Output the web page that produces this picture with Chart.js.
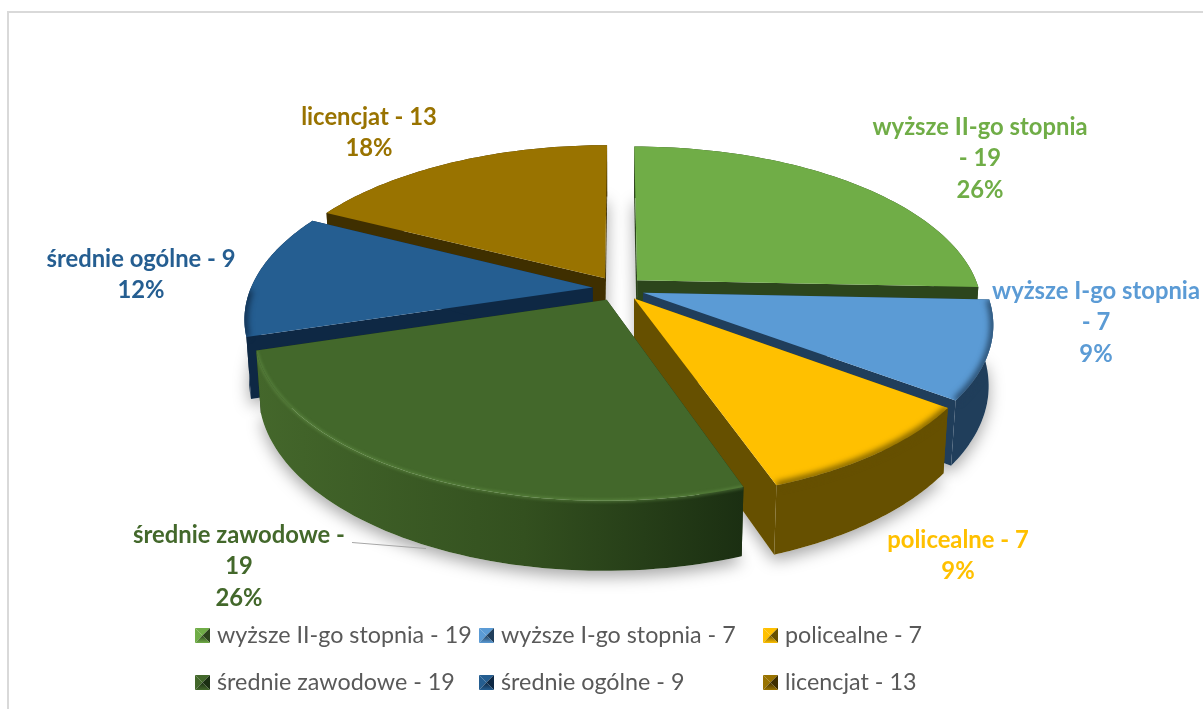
<!DOCTYPE html>
<html>
<head>
<meta charset="utf-8">
<title>Wykształcenie</title>
<script src="https://cdn.jsdelivr.net/npm/chart.js@4"></script>
<style>
    html, body { margin: 0; padding: 0; background: #fff; overflow: hidden; }
    #wrap { position: relative; width: 1203px; height: 709px; }
    #frame { position: absolute; left: 7px; top: 11px; right: -5px; bottom: -5px; border: 2px solid #d9d9d9; }
    canvas { position: absolute; left: 0; top: 0; }
</style>
</head>
<body>
<div id="wrap">
    <div id="frame"></div>
    <canvas id="pie" width="1203" height="709"></canvas>
</div>
<script>
// dane
const categories = ['wyższe II-go stopnia', 'wyższe I-go stopnia', 'policealne', 'średnie zawodowe', 'średnie ogólne', 'licencjat'];
const counts = [19, 7, 7, 19, 9, 13];

// kolory
const topColors = ['#70AD47', '#5B9BD5', '#FFC000', '#43682B', '#255E91', '#997300'];
const wallLight = ['#2C451C', '#203E5B', '#665000', '#44672B', '#0E2844', '#3F2F00'];
const wallDark = ['#2C451C', '#203E5B', '#665000', '#1B2F12', '#0E2844', '#3F2F00'];

// rzut perspektywiczny
const view = { cx: 618.5, cy: 288.6, r: 342, ry: 160.5, depth: 60, persp: 0.18, shrink: 0.012 };
const explode = 26;

// pozycje etykiet
const labelX = [980, 1096, 958, 239, 141, 369];
const labelY = [127, 291, 540, 535, 259, 117];
const labelWrap = [220, 212, 230, 222, 230, 230];
const labelLine = 31.5;
const legendX = [195, 479, 763];
const legendY = [635.5, 682.5];

function project(u, v, h) {
    const w = 1 / (1 - view.persp * v + view.shrink * h);
    return {
        x: view.cx + view.r * u * w,
        y: view.cy + view.ry * v * w + view.depth * h * w
    };
}

function tracePath(ctx, pts) {
    ctx.beginPath();
    addPath(ctx, pts);
}

function addPath(ctx, pts) {
    pts.forEach((p, i) => i ? ctx.lineTo(p.x, p.y) : ctx.moveTo(p.x, p.y));
}

// punkty jednego wycinka liczone z elementu Chart.js
function sliceGeometry(arc) {
    const mid = (arc.startAngle + arc.endAngle) / 2;
    const ox = Math.cos(mid) * arc.options.offset / view.r;
    const oy = Math.sin(mid) * arc.options.offset / view.r;
    const rim = [];
    const steps = 60;
    for (let i = 0; i <= steps; i++) {
        const a = arc.startAngle + (arc.endAngle - arc.startAngle) * i / steps;
        rim.push({ u: ox + Math.cos(a), v: oy + Math.sin(a) });
    }
    return { apex: { u: ox, v: oy }, rim, mid };
}

function at(pts, h) {
    return pts.map(p => project(p.u, p.v, h));
}

function drawSlice(ctx, g, i) {
    const rimTop = at(g.rim, 0);
    const rimBottom = at(g.rim, 1);
    const apexTop = project(g.apex.u, g.apex.v, 0);
    const apexBottom = project(g.apex.u, g.apex.v, 1);

    // sciany przy cieciach
    ctx.fillStyle = wallDark[i];
    tracePath(ctx, [apexTop, rimTop[0], rimBottom[0], apexBottom]);
    ctx.fill();
    tracePath(ctx, [apexTop, rimTop[rimTop.length - 1], rimBottom[rimBottom.length - 1], apexBottom]);
    ctx.fill();

    // sciana zewnetrzna
    const wall = rimTop.concat(rimBottom.slice().reverse());
    const xs = rimTop.map(p => p.x);
    const grad = ctx.createLinearGradient(Math.min(...xs), 0, Math.max(...xs), 0);
    grad.addColorStop(0, wallLight[i]);
    grad.addColorStop(0.55, i === 3 ? '#33501F' : wallLight[i]);
    grad.addColorStop(1, wallDark[i]);
    ctx.fillStyle = grad;
    tracePath(ctx, wall);
    ctx.fill();

    // wierzch
    const face = [apexTop].concat(rimTop);
    ctx.fillStyle = topColors[i];
    tracePath(ctx, face);
    ctx.closePath();
    ctx.fill();

    // zaokraglona krawedz tylko od strony widza
    const front = rimTop.filter((p, n) => g.rim[n].v > 0);
    if (front.length < 2) return;
    ctx.save();
    tracePath(ctx, face);
    ctx.closePath();
    addPath(ctx, wall);
    ctx.closePath();
    ctx.clip();
    ctx.lineJoin = 'round';
    ctx.lineCap = 'butt';
    if (i === 3) {
        ctx.strokeStyle = 'rgba(112,160,82,0.45)';
        ctx.lineWidth = 3;
        ctx.filter = 'blur(1.5px)';
    } else {
        ctx.strokeStyle = wallDark[i];
        ctx.lineWidth = 6;
        ctx.filter = 'blur(3px)';
    }
    tracePath(ctx, front);
    ctx.stroke();
    ctx.restore();
}

function wrapWords(ctx, text, maxWidth) {
    const lines = [];
    let line = '';
    text.split(' ').forEach(word => {
        const next = line ? line + ' ' + word : word;
        if (line && ctx.measureText(next).width > maxWidth) {
            lines.push(line);
            line = word;
        } else {
            line = next;
        }
    });
    lines.push(line);
    return lines;
}

function drawLabels(ctx) {
    const total = counts.reduce((a, b) => a + b, 0);
    ctx.font = 'bold 23.8px Lato';
    ctx.textAlign = 'center';
    ctx.textBaseline = 'middle';
    categories.forEach((cat, i) => {
        const lines = wrapWords(ctx, `${cat} - ${counts[i]}`, labelWrap[i]);
        lines.push(`${Math.round(counts[i] / total * 100)}%`);
        ctx.fillStyle = topColors[i];
        lines.forEach((text, n) => ctx.fillText(text, labelX[i], labelY[i] + n * labelLine));
    });
    // linia odniesienia
    ctx.strokeStyle = '#A6A6A6';
    ctx.lineWidth = 1.2;
    ctx.beginPath();
    ctx.moveTo(352, 542.5);
    ctx.lineTo(426, 548.5);
    ctx.stroke();
}

function drawMarker(ctx, x, y, i) {
    const s = 15;
    const c = { x: x + s / 2, y: y + s / 2 };
    const tri = (a, b, color) => {
        ctx.fillStyle = color;
        tracePath(ctx, [a, b, c]);
        ctx.closePath();
        ctx.fill();
    };
    const tl = { x, y }, tr = { x: x + s, y }, br = { x: x + s, y: y + s }, bl = { x, y: y + s };
    tri(tl, tr, topColors[i]);
    tri(bl, tl, topColors[i]);
    tri(tr, br, wallDark[i]);
    const g = ctx.createLinearGradient(0, c.y, 0, y + s);
    g.addColorStop(0, wallDark[i]);
    g.addColorStop(1, topColors[i]);
    tri(br, bl, g);
}

function drawLegend(ctx) {
    ctx.font = '23.3px Lato';
    ctx.textAlign = 'left';
    ctx.textBaseline = 'middle';
    categories.forEach((cat, i) => {
        const x = legendX[i % 3];
        const y = legendY[Math.floor(i / 3)];
        drawMarker(ctx, x, y - 7.5, i);
        ctx.fillStyle = '#595959';
        ctx.fillText(`${cat} - ${counts[i]}`, x + 22, y);
    });
}

// wlasne rysowanie 3D zamiast plaskich lukow
const pie3d = {
    id: 'pie3d',
    beforeDatasetsDraw(chart) {
        const ctx = chart.ctx;
        const arcs = chart.getDatasetMeta(0).data;
        const slices = arcs.map((arc, i) => ({ i, g: sliceGeometry(arc) }));
        // od tylu do przodu
        slices.sort((a, b) => Math.sin(a.g.mid) - Math.sin(b.g.mid));

        ctx.save();
        ctx.shadowColor = 'rgba(0,0,0,0.35)';
        ctx.shadowBlur = 16;
        ctx.shadowOffsetY = 6;
        slices.forEach(s => {
            ctx.fillStyle = '#fff';
            tracePath(ctx, [project(s.g.apex.u, s.g.apex.v, 1)].concat(at(s.g.rim, 1)));
            ctx.closePath();
            ctx.fill();
        });
        ctx.restore();

        slices.forEach(s => drawSlice(ctx, s.g, s.i));
        drawLabels(ctx);
        drawLegend(ctx);
        return false;
    }
};

new Chart(document.getElementById('pie').getContext('2d'), {
    type: 'pie',
    data: {
        labels: categories,
        datasets: [{ data: counts, backgroundColor: topColors, offset: explode, borderWidth: 0 }]
    },
    options: {
        responsive: false,
        animation: false,
        plugins: { legend: { display: false }, tooltip: { enabled: false } }
    },
    plugins: [pie3d]
});
</script>
</body>
</html>
